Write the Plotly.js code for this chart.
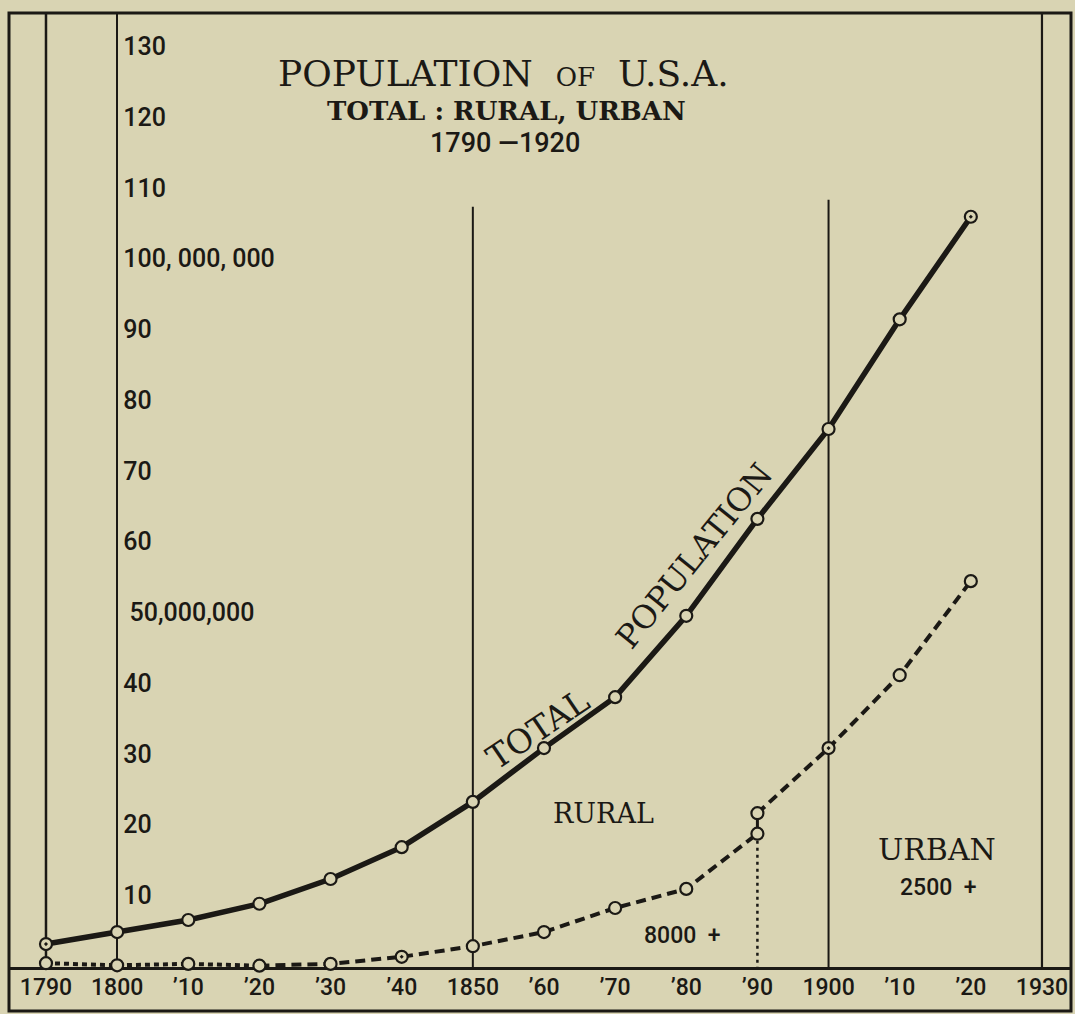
<!DOCTYPE html>
<html>
<head>
<meta charset="utf-8">
<script src="https://cdn.plot.ly/plotly-3.0.1.min.js"></script>
<style>
  html, body { margin: 0; padding: 0; background: #d9d4b3; }
  #chart { width: 1075px; height: 1014px; }
</style>
</head>
<body>
<div id="chart"></div>
<script>
// ---- data (population in millions) ----
const years = [1790, 1800, 1810, 1820, 1830, 1840, 1850, 1860, 1870, 1880, 1890, 1900, 1910, 1920];
const totalPop = [3.1, 4.8, 6.5, 8.8, 12.3, 16.8, 23.2, 30.8, 38.0, 49.5, 63.2, 75.9, 91.4, 105.9];
const urbanYears = [1790, 1800, 1810, 1820, 1830, 1840, 1850, 1860, 1870, 1880, 1890];
const urban8000 = [0.4, 0.1, 0.3, 0.05, 0.3, 1.3, 2.8, 4.8, 8.2, 10.9, 18.7];
const urban2500Years = [1890, 1900, 1910, 1920];
const urban2500 = [21.6, 30.8, 41.1, 54.4];
const xTickYears = [1790, 1800, 1810, 1820, 1830, 1840, 1850, 1860, 1870, 1880, 1890, 1900, 1910, 1920, 1930];
const xTickText = ["1790", "1800", "\u201910", "\u201920", "\u201930", "\u201940", "1850", "\u201960", "\u201970", "\u201980", "\u201990", "1900", "\u201910", "\u201920", "1930"];
const yTickVals = [10, 20, 30, 40, 50, 60, 70, 80, 90, 100, 110, 120, 130];
const yTickText = ["10", "20", "30", "40", "\u00a050,000,000", "60", "70", "80", "90", "100,\u00a0000,\u00a0000", "110", "120", "130"];

// ---- styling ----
const INK = "#1b1915";
const BG = "#d9d4b3";
const W = 1075, H = 1014;
const M = { l: 9, r: 4, t: 13, b: 47 };
const xRange = [1784.8, 1934.08];
const yRange = [-0.14, 134.7];
const plotW = W - M.l - M.r, plotH = H - M.t - M.b;
const px = x => (x - M.l) / plotW;          // pixel -> paper
const py = y => (H - M.b - y) / plotH;
const TYPE = "DejaVu Serif, Liberation Serif, serif";
const SANS = "Roboto";

const totalSymbols = years.map((y, i) => (i === 0 || i === years.length - 1) ? "circle-dot" : "circle");
const urbanSymbols = urbanYears.map(y => (y === 1840) ? "circle-dot" : "circle");
const urban2500Symbols = urban2500Years.map(y => (y === 1900) ? "circle-dot" : "circle");
const mk = (sym) => ({ symbol: sym, size: 12, color: BG, line: { color: INK, width: 2.2 } });

const traces = [
  { x: urbanYears.slice(0, 4), y: urban8000.slice(0, 4), mode: "lines",
    line: { color: INK, width: 4, dash: "5px,4px" }, hoverinfo: "skip" },
  { x: urbanYears.slice(3), y: urban8000.slice(3), mode: "lines",
    line: { color: INK, width: 4, dash: "10px,6px" }, hoverinfo: "skip" },
  { x: [1890, 1890], y: [urban8000[urban8000.length - 1], yRange[0]], mode: "lines",
    line: { color: INK, width: 2.5, dash: "3px,4px" }, hoverinfo: "skip" },
  { x: [1890, 1890], y: [urban8000[urban8000.length - 1], urban2500[0]], mode: "lines",
    line: { color: INK, width: 3 }, hoverinfo: "skip" },
  { x: urban2500Years, y: urban2500, mode: "lines",
    line: { color: INK, width: 4, dash: "10px,6px" }, hoverinfo: "skip" },
  { x: years, y: totalPop, mode: "lines+markers", line: { color: INK, width: 5.5 },
    marker: mk(totalSymbols), cliponaxis: false, name: "Total" },
  { x: urbanYears, y: urban8000, mode: "markers", marker: mk(urbanSymbols), cliponaxis: false, name: "Urban 8000+" },
  { x: urban2500Years, y: urban2500, mode: "markers", marker: mk(urban2500Symbols), cliponaxis: false, name: "Urban 2500+" }
];

const ann = (text, x, y, size, family, angle, weight) => ({
  text: text, xref: "paper", yref: "paper", x: px(x), y: py(y),
  xanchor: "center", yanchor: "middle", showarrow: false, textangle: angle || 0,
  font: { family: family, size: size, color: INK, weight: weight || "normal" }
});

const layout = {
  width: W, height: H,
  margin: M,
  paper_bgcolor: BG, plot_bgcolor: BG,
  showlegend: false,
  xaxis: {
    range: xRange, showgrid: false, zeroline: false,
    showline: true, linecolor: INK, linewidth: 3, mirror: false,
    ticks: "", tickvals: xTickYears, ticktext: xTickText,
    tickfont: { family: SANS, size: 23, color: INK, weight: 500 },
    ticklabelstandoff: -3, layer: "below traces", fixedrange: true
  },
  yaxis: {
    range: yRange, showgrid: false, zeroline: false,
    anchor: "free", position: (1800 - xRange[0]) / (xRange[1] - xRange[0]), side: "right",
    showline: true, linecolor: INK, linewidth: 2.2,
    ticks: "", tickvals: yTickVals, ticktext: yTickText,
    tickfont: { family: SANS, size: 25, color: INK, weight: 500 },
    ticklabelstandoff: 0, layer: "below traces", fixedrange: true
  },
  shapes: [
    { type: "rect", xref: "paper", yref: "paper", x0: 0, x1: 1, y0: py(1011), y1: 1,
      line: { color: INK, width: 3 }, layer: "below" },
    { type: "line", xref: "x", yref: "paper", x0: 1790, x1: 1790, y0: 0, y1: 1, line: { color: INK, width: 2.5 }, layer: "below" },
    { type: "line", xref: "x", yref: "y", x0: 1850, x1: 1850, y0: yRange[0], y1: 107.3, line: { color: INK, width: 2 }, layer: "below" },
    { type: "line", xref: "x", yref: "y", x0: 1900, x1: 1900, y0: yRange[0], y1: 108.3, line: { color: INK, width: 2 }, layer: "below" },
    { type: "line", xref: "x", yref: "paper", x0: 1930, x1: 1930, y0: 0, y1: 1, line: { color: INK, width: 2.2 }, layer: "below" }
  ],
  annotations: [
    ann("POPULATION\u00a0\u00a0<span style='font-size:26px'>OF</span>\u00a0\u00a0U.S.A.", 503, 74, 36, TYPE),
    ann("TOTAL : RURAL, URBAN", 506, 111, 26, TYPE, 0, "bold"),
    ann("1790 \u20141920", 505, 143, 27, SANS, 0, 500),
    ann("TOTAL", 537, 729, 33, TYPE, -34),
    ann("POPULATION", 694, 556, 32, TYPE, -51),
    ann("RURAL", 603, 813, 27, TYPE),
    ann("URBAN", 937, 849, 30, TYPE),
    ann("2500\u00a0\u00a0+", 938, 887, 23, SANS, 0, 500),
    ann("8000\u00a0\u00a0+", 682, 935, 23, SANS, 0, 500)
  ]
};

Plotly.newPlot("chart", traces, layout, { staticPlot: true, displayModeBar: false });
</script>
</body>
</html>
